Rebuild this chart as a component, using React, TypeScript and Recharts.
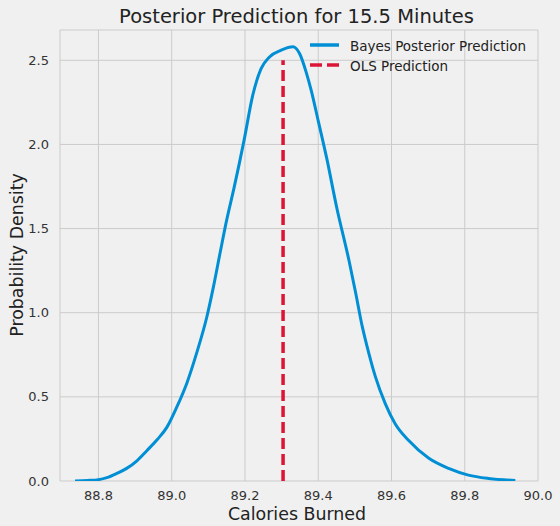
import React from "react";
import { LineChart, Line, XAxis, YAxis, CartesianGrid, ReferenceLine } from "recharts";

// posterior predictive density
const calories = [
  88.736, 88.77, 88.8, 88.823, 88.85, 88.877, 88.905, 88.932, 88.96, 88.987,
  89.014, 89.041, 89.068, 89.096, 89.114, 89.132, 89.15, 89.17, 89.198, 89.221,
  89.244, 89.267, 89.299, 89.331, 89.349, 89.367, 89.381, 89.4, 89.423, 89.45,
  89.484, 89.502, 89.52, 89.538, 89.556, 89.583, 89.61, 89.647, 89.702,
  89.756, 89.81, 89.865, 89.938,
];
const density = [
  0.0, 0.003, 0.008, 0.02, 0.045, 0.075, 0.12, 0.18, 0.245, 0.32,
  0.44, 0.58, 0.76, 0.976, 1.155, 1.355, 1.55, 1.74, 2.03, 2.29,
  2.45, 2.52, 2.56, 2.58, 2.54, 2.43, 2.32, 2.14, 1.92, 1.63,
  1.31, 1.12, 0.92, 0.76, 0.62, 0.46, 0.34, 0.24, 0.135,
  0.075, 0.035, 0.015, 0.003,
];
const xTicks = [88.8, 89.0, 89.2, 89.4, 89.6, 89.8, 90.0];
const yTicks = [0, 0.5, 1.0, 1.5, 2.0, 2.5];
const olsPrediction = 89.304;
const olsTop = 2.5;

const BLUE = "#008fd5";
const RED = "#dc1436";
const BG = "#f0f0f0";
const FONT = "DejaVu Sans, sans-serif";

const data = calories.map((c, i) => ({ calories: c, density: density[i] }));

const tickStyle = { fontSize: 13, fill: "#333", fontFamily: FONT };

export default function App() {
  return (
    <div style={{ position: "relative", width: 560, height: 526, background: BG, fontFamily: FONT }}>
      <style>{"body{margin:0;background:#f0f0f0}"}</style>
      <LineChart width={560} height={526} data={data} margin={{ top: 30, right: 22, left: 0, bottom: 0 }}>
        <CartesianGrid stroke="#cbcbcb" strokeWidth={1} />
        <XAxis
          dataKey="calories"
          type="number"
          domain={[88.695, 90.0]}
          ticks={xTicks}
          tickFormatter={(v) => Number(v).toFixed(1)}
          allowDataOverflow
          height={45}
          axisLine={false}
          tickLine={false}
          tickSize={0}
          tickMargin={10}
          tick={tickStyle}
        />
        <YAxis
          type="number"
          domain={[0, 2.68]}
          ticks={yTicks}
          tickFormatter={(v) => Number(v).toFixed(1)}
          allowDataOverflow
          width={60}
          axisLine={false}
          tickLine={false}
          tickSize={0}
          tickMargin={11}
          tick={tickStyle}
        />
        <Line
          type="monotone"
          dataKey="density"
          stroke={BLUE}
          strokeWidth={3}
          dot={false}
          activeDot={false}
          isAnimationActive={false}
        />
        <ReferenceLine
          segment={[{ x: olsPrediction, y: 0 }, { x: olsPrediction, y: olsTop }]}
          stroke={RED}
          strokeWidth={3.5}
          strokeDasharray="11 5"
        />
      </LineChart>
      <svg
        width={560}
        height={526}
        style={{ position: "absolute", left: 0, top: 0, pointerEvents: "none" }}
        fontFamily={FONT}
      >
        <text x={296.5} y={23} textAnchor="middle" fontSize={19.5} fill="#222">
          Posterior Prediction for 15.5 Minutes
        </text>
        <text x={297} y={520} textAnchor="middle" fontSize={17.4} fill="#222">
          Calories Burned
        </text>
        <text x={22.7} y={255} textAnchor="middle" fontSize={17.4} fill="#222" transform="rotate(-90 22.7 255)">
          Probability Density
        </text>
        <line x1={310} x2={339} y1={45} y2={45} stroke={BLUE} strokeWidth={3.5} />
        <text x={350} y={50.5} fontSize={13.5} fill="#222">Bayes Posterior Prediction</text>
        <line x1={310} x2={339} y1={65} y2={65} stroke={RED} strokeWidth={3.5} strokeDasharray="12 5" />
        <text x={350} y={70.5} fontSize={13.5} fill="#222">OLS Prediction</text>
      </svg>
    </div>
  );
}
